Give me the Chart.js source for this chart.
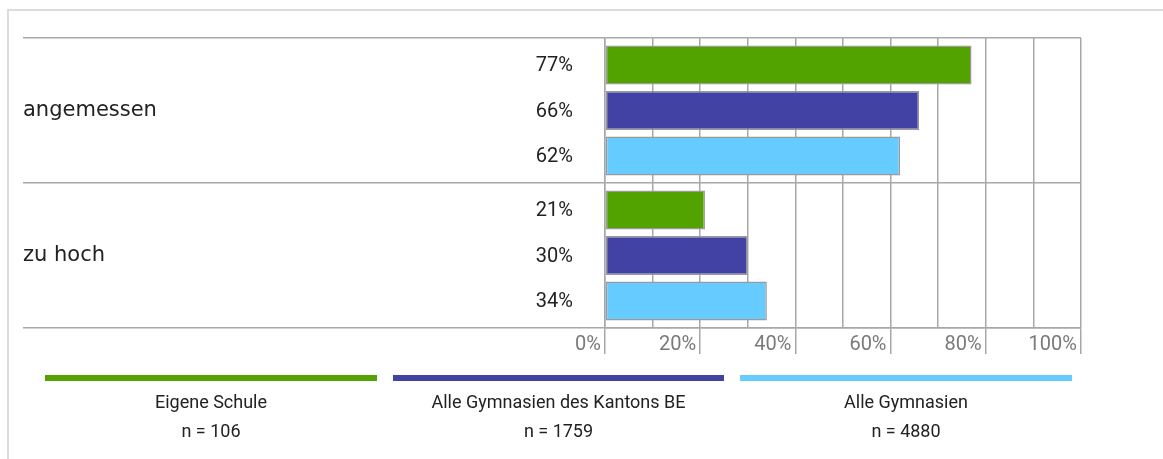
<!DOCTYPE html>
<html>
<head>
<meta charset="utf-8">
<script src="https://cdn.jsdelivr.net/npm/chart.js"></script>
<style>
    html, body { margin: 0; background: #fff; overflow: hidden; }
    #wrap { position: relative; width: 1163px; height: 459px; overflow: hidden; }
    #frame {
        position: absolute; left: 7px; top: 9px; width: 1154px; height: 448px;
        border-top: 2px solid #dcdcdc; border-left: 2px solid #dcdcdc;
    }
    #chart { position: absolute; left: 0; top: 0; }
    .leg { position: absolute; top: 375px; text-align: center; font-family: Roboto, sans-serif; font-size: 18px; color: #222; }
    .leg .bar { height: 6px; margin-bottom: 6px; }
    .leg .txt { line-height: 29px; }
</style>
</head>
<body>
<div id="wrap">
    <div id="frame"></div>
    <canvas id="chart" width="1163" height="459"></canvas>
    <div id="legend"></div>
</div>
<script>
const categories = ["angemessen", "zu hoch"];
const seriesNames = ["Eigene Schule", "Alle Gymnasien des Kantons BE", "Alle Gymnasien"];
const seriesN = ["n = 106", "n = 1759", "n = 4880"];
const eigeneSchule = [77, 21];
const kantonBE = [66, 30];
const alleGymnasien = [62, 34];
const colors = ["#52a300", "#4242a4", "#66ccff"];

const gridColor = "#a8a8a8";

// value labels left of the plot, one per bar
const valueLabels = {
    id: "valueLabels",
    afterDatasetsDraw(chart) {
        const ctx = chart.ctx;
        ctx.save();
        ctx.font = "20px Roboto";
        ctx.fillStyle = "#222";
        ctx.textAlign = "right";
        ctx.textBaseline = "middle";
        chart.data.datasets.forEach((ds, i) => {
            chart.getDatasetMeta(i).data.forEach((bar, j) => {
                ctx.fillText(ds.data[j] + "%", chart.chartArea.left - 32, bar.y + 1);
            });
        });
        ctx.restore();
    }
};

new Chart(document.getElementById("chart"), {
    type: "bar",
    data: {
        labels: categories,
        datasets: [eigeneSchule, kantonBE, alleGymnasien].map((d, i) => ({
            label: seriesNames[i],
            data: d,
            backgroundColor: colors[i],
            borderColor: "#9a9a9a",
            borderWidth: 1.5,
            borderSkipped: false,
            barPercentage: 0.86,
            categoryPercentage: 0.94
        }))
    },
    options: {
        indexAxis: "y",
        responsive: false,
        animation: false,
        layout: { padding: { left: 23, top: 38, right: 82, bottom: 101 } },
        plugins: { legend: { display: false }, tooltip: { enabled: false } },
        scales: {
            x: {
                min: 0,
                max: 100,
                afterFit(scale) { scale.height = 30; },
                grid: {
                    color: gridColor,
                    lineWidth: 1.5,
                    tickLength: 26,
                    tickColor: c => (c.tick && c.tick.value % 20 === 0) ? gridColor : "rgba(0,0,0,0)"
                },
                border: { color: gridColor, width: 1.5 },
                ticks: {
                    stepSize: 10,
                    autoSkip: false,
                    maxRotation: 0,
                    align: "end",
                    padding: -21,
                    color: "#7a7a7a",
                    font: { family: "Roboto", size: 20 },
                    callback: v => v % 20 === 0 ? v + "%\u2009" : ""
                }
            },
            y: {
                afterFit(scale) { scale.width = 582; },
                grid: {
                    offset: true,
                    color: gridColor,
                    lineWidth: 1.5,
                    tickLength: 582
                },
                border: { color: gridColor, width: 1.5 },
                ticks: {
                    crossAlign: "far",
                    color: "#222",
                    font: { family: "DejaVu Sans", size: 21 }
                }
            }
        }
    },
    plugins: [valueLabels]
});

const legendBoxes = [[45, 332], [393, 331], [740, 332]];
const legend = document.getElementById("legend");
seriesNames.forEach((name, i) => {
    const d = document.createElement("div");
    d.className = "leg";
    d.style.left = legendBoxes[i][0] + "px";
    d.style.width = legendBoxes[i][1] + "px";
    d.innerHTML = `<div class="bar" style="background:${colors[i]}"></div>
        <div class="txt">${name}</div><div class="txt">${seriesN[i]}</div>`;
    legend.appendChild(d);
});
</script>
</body>
</html>
